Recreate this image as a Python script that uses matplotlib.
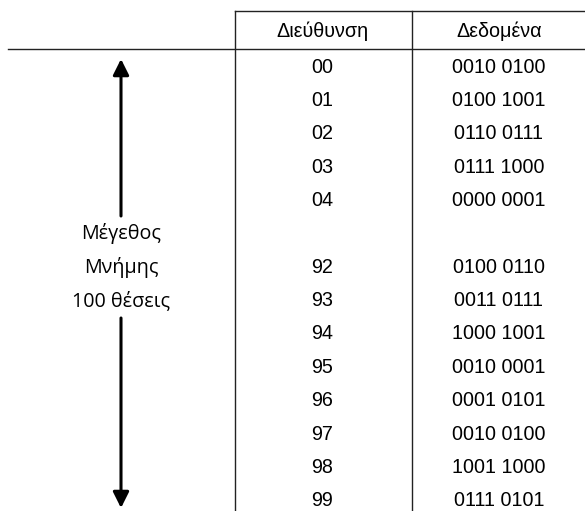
import matplotlib.pyplot as plt

headers = ['Διεύθυνση', 'Δεδομένα']
addresses = ['00', '01', '02', '03', '04', '', '92', '93', '94', '95', '96', '97', '98', '99']
contents = ['0010 0100', '0100 1001', '0110 0111', '0111 1000', '0000 0001', '',
            '0100 0110', '0011 0111', '1000 1001', '0010 0001', '0001 0101',
            '0010 0100', '1001 1000', '0111 0101']
side_label = ['Μέγεθος', 'Μνήμης', '100 θέσεις']

W, H = 585, 511
fig = plt.figure(figsize=(W / 100, H / 100), dpi=100)
ax = fig.add_axes([0, 0, 1, 1])
ax.set_xlim(0, W)
ax.set_ylim(H, 0)
ax.axis('off')

top = 11
head = 49.5
rowh = 33.35
x1, x2 = 235, 412
xa, xd = 322, 499
xl = 121
fs = 14.2

# table lines
ax.plot([x1, W], [top, top], color='#222222', lw=1.0)
ax.plot([8, W], [head, head], color='#222222', lw=1.0)
ax.plot([x1, x1], [top, H], color='#222222', lw=1.0)
ax.plot([x2, x2], [top, H], color='#222222', lw=1.0)

font = 'Liberation Sans'
ax.text(xa, (top + head) / 2 + 1, headers[0], ha='center', va='center', fontsize=fs, family=font)
ax.text(xd, (top + head) / 2 + 1, headers[1], ha='center', va='center', fontsize=fs, family=font)

for i, (a, d) in enumerate(zip(addresses, contents)):
    y = head + rowh * (i + 0.5) + 1
    ax.text(xa, y, a, ha='center', va='center', fontsize=fs, family=font)
    ax.text(xd, y, d, ha='center', va='center', fontsize=fs, family=font)

for i, s in enumerate(side_label):
    y = head + rowh * (i + 5.5) + 1
    ax.text(xl, y, s, ha='center', va='center', fontsize=fs, family='Open Sans')

ax.annotate('', xy=(xl, 59), xytext=(xl, 216),
            arrowprops=dict(arrowstyle='-|>', lw=2.2, color='black', mutation_scale=24, shrinkA=0, shrinkB=0))
ax.annotate('', xy=(xl, 508), xytext=(xl, 318),
            arrowprops=dict(arrowstyle='-|>', lw=2.2, color='black', mutation_scale=24, shrinkA=0, shrinkB=0))

fig.savefig('out.png', dpi=100, facecolor='white')
